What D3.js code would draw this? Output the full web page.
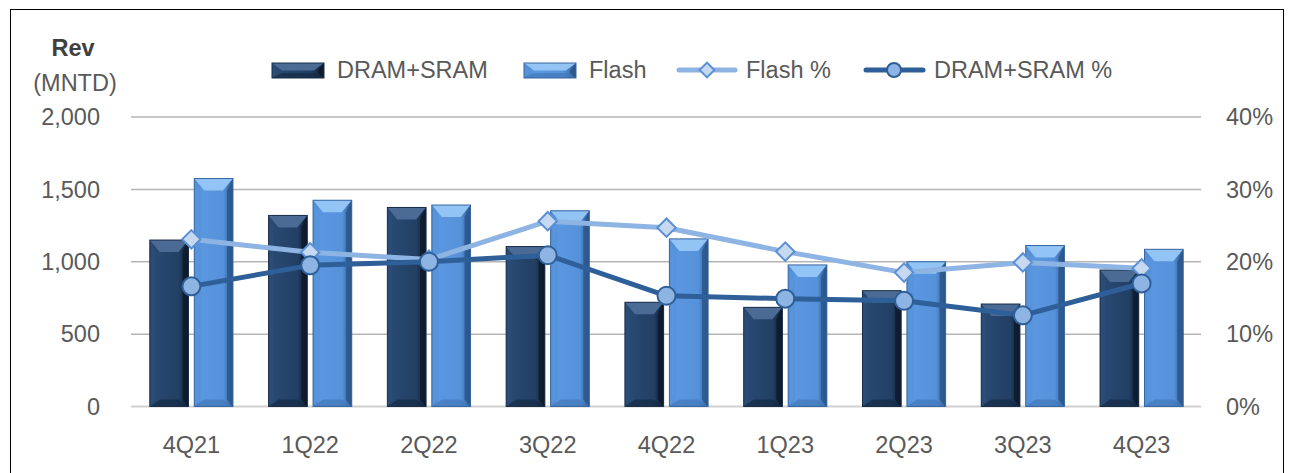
<!DOCTYPE html>
<html>
<head>
<meta charset="utf-8">
<script src="https://cdn.jsdelivr.net/npm/d3@7"></script>
<style>
  html, body { margin: 0; padding: 0; background: #fff; }
  svg { display: block; font-family: "Liberation Sans", Arial, sans-serif; }
</style>
</head>
<body>
<svg id="chart" width="1290" height="473"></svg>
<script>
const categories = ['4Q21','1Q22','2Q22','3Q22','4Q22','1Q23','2Q23','3Q23','4Q23'];
const dramSram = [1150, 1320, 1375, 1105, 720, 685, 800, 708, 943];
const flash = [1575, 1425, 1392, 1352, 1158, 978, 1000, 1112, 1086];
const flashPct = [23.1, 21.3, 20.3, 25.6, 24.7, 21.4, 18.5, 19.9, 19.1];
const dramPct = [16.6, 19.5, 20.0, 20.9, 15.3, 14.9, 14.6, 12.6, 17.0];
const leftTicks = [0, 500, 1000, 1500, 2000];
const rightTicks = [0, 10, 20, 30, 40];
const seriesNames = ['DRAM+SRAM', 'Flash', 'Flash %', 'DRAM+SRAM %'];

const svg = d3.select('#chart');
const textColor = '#595959';
const fontSize = 23.5;

// frame
svg.append('rect').attr('x', 10.5).attr('y', 9.5).attr('width', 1273).attr('height', 480)
  .attr('fill', 'none').attr('stroke', '#000').attr('stroke-width', 1);

const x = d3.scaleBand().domain(categories).range([132, 1201]).paddingInner(0.3).paddingOuter(0.15);
const xs = d3.scaleBand().domain(['dram','flash']).range([0, x.bandwidth()]).paddingInner(0.13);
const y = d3.scaleLinear().domain([0, 2000]).range([406.5, 117]);
const y2 = d3.scaleLinear().domain([0, 40]).range([406.5, 117]);

// gradients
const defs = svg.append('defs');
function grad(id, stops) {
  const g = defs.append('linearGradient').attr('id', id).attr('x1', 0).attr('x2', 1).attr('y1', 0).attr('y2', 0);
  stops.forEach(s => g.append('stop').attr('offset', s[0]).attr('stop-color', s[1]));
}
grad('gDram', [[0, '#2a4a74'], [0.2, '#284870'], [0.75, '#223f64'], [1, '#0e1c2e']]);
grad('gFlash', [[0, '#4d87cc'], [0.2, '#5a97e0'], [0.75, '#5692da'], [1, '#2d5a90']]);

const styles = {
  dram: { fill: 'url(#gDram)', top: '#4b6b95', bottom: '#152a44', left: '#2d4f7c', right: '#0d1a2b', stroke: '#1a2e48' },
  flash: { fill: 'url(#gFlash)', top: '#92c4f6', bottom: '#4378b8', left: '#5c9ae0', right: '#2a5588', stroke: '#3767a0' }
};

function bevelBar(g, bx, by, w, h, st) {
  const bi = Math.min(10, w / 3), bdT = Math.min(12, h / 2), bdB = Math.min(7, h / 3);
  g.append('rect').attr('x', bx).attr('y', by).attr('width', w).attr('height', h).attr('fill', st.fill);
  g.append('polygon').attr('points', [[bx, by], [bx + bi * 0.5, by + bdT], [bx + bi * 0.5, by + h - bdB], [bx, by + h]].join(' ')).attr('fill', st.left).attr('opacity', 0.6);
  g.append('polygon').attr('points', [[bx + w, by], [bx + w - bi * 0.6, by + bdT], [bx + w - bi * 0.6, by + h - bdB], [bx + w, by + h]].join(' ')).attr('fill', st.right).attr('opacity', 0.8);
  g.append('polygon').attr('points', [[bx, by], [bx + w, by], [bx + w - bi, by + bdT], [bx + bi, by + bdT]].join(' ')).attr('fill', st.top);
  g.append('polygon').attr('points', [[bx, by + h], [bx + w, by + h], [bx + w - bi, by + h - bdB], [bx + bi, by + h - bdB]].join(' ')).attr('fill', st.bottom).attr('opacity', 0.7);
  g.append('rect').attr('x', bx).attr('y', by).attr('width', w).attr('height', h).attr('fill', 'none').attr('stroke', st.stroke).attr('stroke-width', 1);
}

// gridlines
svg.append('g').selectAll('line').data(leftTicks).join('line')
  .attr('x1', 131).attr('x2', 1201)
  .attr('y1', d => y(d)).attr('y2', d => y(d))
  .attr('stroke', d => d === 0 ? '#d0d0d0' : '#b5b5b5').attr('stroke-width', d => d === 0 ? 2 : 1.5);

// left axis labels
svg.append('g').selectAll('text').data(leftTicks).join('text')
  .attr('x', 100).attr('y', d => y(d)).attr('dy', '0.35em').attr('text-anchor', 'end')
  .attr('fill', textColor).attr('font-size', fontSize).text(d => d3.format(',')(d));

// right axis labels
svg.append('g').selectAll('text').data(rightTicks).join('text')
  .attr('x', 1226).attr('y', d => y2(d)).attr('dy', '0.35em').attr('text-anchor', 'start')
  .attr('fill', textColor).attr('font-size', fontSize).text(d => d + '%');

// axis title
svg.append('text').attr('x', 73).attr('y', 56).attr('text-anchor', 'middle').attr('font-weight', 'bold')
  .attr('fill', '#404040').attr('font-size', fontSize).text('Rev');
svg.append('text').attr('x', 75).attr('y', 91).attr('text-anchor', 'middle')
  .attr('fill', textColor).attr('font-size', fontSize).text('(MNTD)');

// x labels
svg.append('g').selectAll('text').data(categories).join('text')
  .attr('x', d => x(d) + x.bandwidth() / 2).attr('y', 453).attr('text-anchor', 'middle')
  .attr('fill', textColor).attr('font-size', fontSize).text(d => d);

// bars
const barsG = svg.append('g');
categories.forEach((c, i) => {
  bevelBar(barsG, x(c) + xs('dram'), y(dramSram[i]), xs.bandwidth(), y(0) - y(dramSram[i]), styles.dram);
  bevelBar(barsG, x(c) + xs('flash'), y(flash[i]), xs.bandwidth(), y(0) - y(flash[i]), styles.flash);
});

const cx = c => x(c) + x.bandwidth() / 2;
const flashCol = '#8db4e2', dramLineCol = '#2f5f98';

// Flash % line
svg.append('path').datum(flashPct)
  .attr('d', d3.line().x((d, i) => cx(categories[i])).y(d => y2(d)))
  .attr('fill', 'none').attr('stroke', flashCol).attr('stroke-width', 5).attr('stroke-linejoin', 'round');
const diamond = d3.symbol().type(d3.symbolSquare).size(170);
svg.append('g').selectAll('path').data(flashPct).join('path')
  .attr('d', diamond)
  .attr('transform', (d, i) => `translate(${cx(categories[i])},${y2(d)}) rotate(45)`)
  .attr('fill', '#c6d9f1').attr('stroke', '#5b8fd6').attr('stroke-width', 2);

// DRAM % line
svg.append('path').datum(dramPct)
  .attr('d', d3.line().x((d, i) => cx(categories[i])).y(d => y2(d)))
  .attr('fill', 'none').attr('stroke', dramLineCol).attr('stroke-width', 5).attr('stroke-linejoin', 'round');
svg.append('g').selectAll('circle').data(dramPct).join('circle')
  .attr('cx', (d, i) => cx(categories[i])).attr('cy', d => y2(d)).attr('r', 9)
  .attr('fill', '#8db4e2').attr('stroke', dramLineCol).attr('stroke-width', 2);

// legend
const ly = 70;
const lg = svg.append('g');
bevelBar(lg, 272, ly - 7, 52, 15, styles.dram);
lg.append('text').attr('x', 337).attr('y', ly).attr('dy', '0.35em').attr('fill', textColor).attr('font-size', fontSize).text(seriesNames[0]);
bevelBar(lg, 524, ly - 7, 52, 15, styles.flash);
lg.append('text').attr('x', 589).attr('y', ly).attr('dy', '0.35em').attr('fill', textColor).attr('font-size', fontSize).text(seriesNames[1]);
lg.append('line').attr('x1', 679).attr('x2', 735).attr('y1', ly).attr('y2', ly).attr('stroke', flashCol).attr('stroke-width', 5).attr('stroke-linecap', 'round');
lg.append('path').attr('d', d3.symbol().type(d3.symbolSquare).size(110)).attr('transform', `translate(707,${ly}) rotate(45)`)
  .attr('fill', '#c6d9f1').attr('stroke', '#5b8fd6').attr('stroke-width', 2);
lg.append('text').attr('x', 746).attr('y', ly).attr('dy', '0.35em').attr('fill', textColor).attr('font-size', fontSize).text(seriesNames[2]);
lg.append('line').attr('x1', 866).attr('x2', 923).attr('y1', ly).attr('y2', ly).attr('stroke', dramLineCol).attr('stroke-width', 5).attr('stroke-linecap', 'round');
lg.append('circle').attr('cx', 894).attr('cy', ly).attr('r', 7).attr('fill', '#8db4e2').attr('stroke', dramLineCol).attr('stroke-width', 2);
lg.append('text').attr('x', 934).attr('y', ly).attr('dy', '0.35em').attr('fill', textColor).attr('font-size', fontSize).text(seriesNames[3]);
</script>
</body>
</html>
